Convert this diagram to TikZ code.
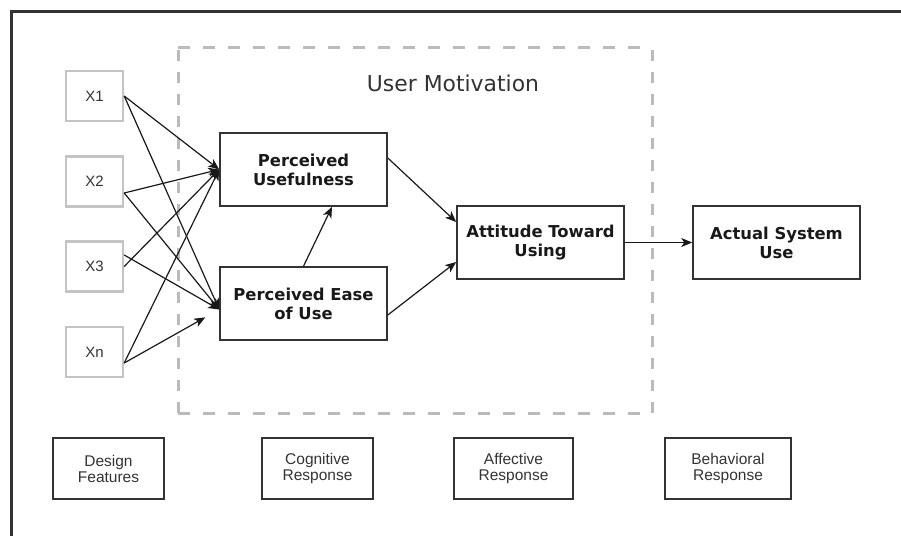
\documentclass[tikz,border=0pt]{standalone}
\usepackage{fontspec}
\setmainfont{Liberation Sans}
\newfontfamily\dvs{DejaVu Sans}
\usetikzlibrary{arrows.meta,calc}
\definecolor{edge}{HTML}{333333}
\definecolor{xgray}{HTML}{C4C4C4}
\definecolor{dashgray}{HTML}{BBBBBB}
\definecolor{txtgray}{HTML}{333333}
\begin{document}
\begin{tikzpicture}[x=1pt,y=-1pt,
  inbox/.style={draw=xgray, line width=2.4pt, minimum width=57pt, minimum height=50pt,
    inner sep=0pt, font=\fontsize{15}{18}\selectfont, text=txtgray},
  construct/.style={draw=edge, line width=1.6pt, minimum width=167pt, minimum height=73pt,
    inner sep=0pt, align=center, font=\dvs\bfseries\fontsize{16.4}{19}\selectfont, text=black!90},
  tag/.style={draw=edge, line width=1.4pt, minimum height=61pt, inner sep=0pt,
    align=center, font=\fontsize{15.5}{16}\selectfont, text=txtgray},
  link/.style={-{Stealth[length=11pt,width=9pt,inset=3pt]}, line width=1.2pt, draw=black!90},
  frameline/.style={dashgray, line width=3pt}
]
\useasboundingbox (0,0) rectangle (901,535);

% outer frame
\draw[edge, line width=2.5pt] (11.5,545) -- (11.5,11.5) -- (910,11.5);

% dashed grouping box
\draw[frameline, dash pattern=on 12pt off 13pt] (178,48) -- (652,48);
\draw[frameline, dash pattern=on 12pt off 13pt] (178,413) -- (652,413);
\draw[frameline, dash pattern=on 11pt off 11pt] (178,50) -- (178,413);
\draw[frameline, dash pattern=on 11pt off 11pt] (652,50) -- (652,413);
\node[anchor=base, font=\dvs\fontsize{21.9}{24}\selectfont, text=txtgray] (um) at (453,91) {User Motivation};

% design features
\node[inbox] (x1) at (94.5,96) {X1};
\node[inbox] (x2) at (94.5,181.5) {X2};
\node[inbox] (x3) at (94.5,266.5) {X3};
\node[inbox] (xn) at (94.5,352) {Xn};

% constructs
\node[construct] (pu) at (303.5,169.5) {Perceived\\Usefulness};
\node[construct] (peou) at (303.5,303.5) {Perceived Ease\\of Use};
\node[construct] (atu) at (540.5,242.5) {Attitude Toward\\Using};
\node[construct] (asu) at (776.5,242.5) {Actual System\\Use};

% stage labels
\node[tag, minimum width=111pt] (df) at (108.5,468.5) {Design\\Features};
\node[tag, minimum width=111pt] (cr) at (317.5,468.5) {Cognitive\\Response};
\node[tag, minimum width=119pt] (ar) at (513.5,468.5) {Affective\\Response};
\node[tag, minimum width=126pt] (br) at (728,468.5) {Behavioral\\Response};

% target points on the constructs
\coordinate (puin) at (pu.west);
\coordinate (peouin) at ($(peou.west)+(0,6)$);

% design features -> perceptions
\draw[link] (x1.east) -- (puin);
\draw[link] (x1.east) -- (peouin);
\draw[link] ($(x2.east)+(0,11.5)$) -- (puin);
\draw[link] ($(x2.east)+(0,11.5)$) -- (peouin);
\draw[link] (x3.east) -- (puin);
\draw[link] ($(x3.east)+(0,-11.5)$) -- (peouin);
\draw[link] ($(xn.east)+(0,11)$) -- (puin);
\draw[link, shorten >=16pt] ($(xn.east)+(0,11)$) -- (peouin);

% perceptions -> attitude -> use
\draw[link] (peou.north) -- ($(pu.south)+(28.5,0)$);
\draw[link] ($(pu.east)+(0,-11.5)$) -- ($(atu.west)+(0,-20.5)$);
\draw[link] ($(peou.east)+(0,11.5)$) -- ($(atu.west)+(0,19.5)$);
\draw[link] (atu.east) -- (asu.west);
\end{tikzpicture}
\end{document}
